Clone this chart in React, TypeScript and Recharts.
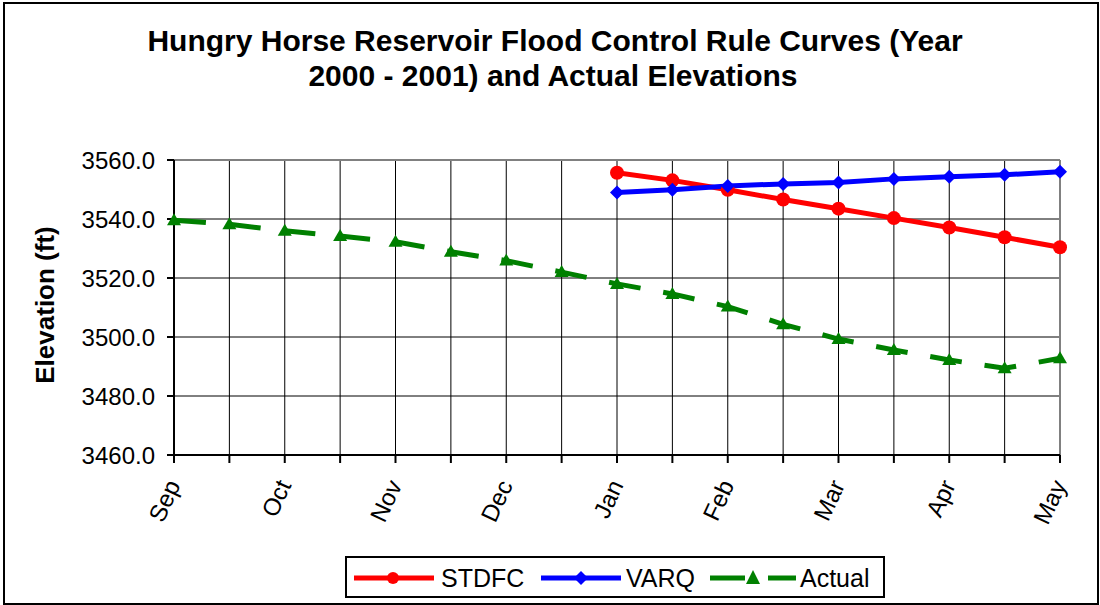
import React from 'react';
import { LineChart, Line, XAxis, YAxis, CartesianGrid, ReferenceLine } from 'recharts';

const categoryIndex = [0, 1, 2, 3, 4, 5, 6, 7, 8, 9, 10, 11, 12, 13, 14, 15, 16];
const tickLabels = ['Sep', '', 'Oct', '', 'Nov', '', 'Dec', '', 'Jan', '', 'Feb', '', 'Mar', '', 'Apr', '', 'May'];
const stdfc = [null, null, null, null, null, null, null, null, 3555.7, 3553.1, 3549.9, 3546.6, 3543.5, 3540.3, 3537.1, 3533.8, 3530.4];
const varq = [null, null, null, null, null, null, null, null, 3549.0, 3549.9, 3551.2, 3551.9, 3552.4, 3553.6, 3554.3, 3555.0, 3556.0];
const actual = [3539.6, 3538.2, 3536.0, 3534.2, 3532.3, 3528.9, 3525.9, 3522.0, 3518.0, 3514.6, 3510.3, 3504.3, 3499.3, 3495.6, 3492.2, 3489.4, 3492.8];
const yTicks = [3460, 3480, 3500, 3520, 3540, 3560];

const data = categoryIndex.map((i) => ({
  i,
  label: tickLabels[i],
  STDFC: stdfc[i],
  VARQ: varq[i],
  Actual: actual[i],
}));

const FONT = "Arial, 'Liberation Sans', sans-serif";

const XTick = (props: any) => {
  const { x, y, payload } = props;
  const label = tickLabels[payload.value];
  if (!label) return null;
  const ax = x + 7;
  const ay = y + 20;
  return (
    <text
      x={ax}
      y={ay}
      transform={`rotate(-65, ${ax}, ${ay})`}
      textAnchor="end"
      fontSize={24}
      fontFamily={FONT}
      fill="#000"
    >
      {label}
    </text>
  );
};

const Diamond = (props: any) => {
  const { cx, cy } = props;
  if (cx == null || cy == null || props.value == null) return null;
  const s = 7;
  return <path d={`M${cx},${cy - s}L${cx + s},${cy}L${cx},${cy + s}L${cx - s},${cy}Z`} fill="#0000FF" />;
};

const Triangle = (props: any) => {
  const { cx, cy } = props;
  if (cx == null || cy == null || props.value == null) return null;
  return <path d={`M${cx},${cy - 7}L${cx + 7},${cy + 5}L${cx - 7},${cy + 5}Z`} fill="#008000" />;
};

const LegendBox = () => (
  <svg width={542} height={44} style={{ display: 'block' }}>
    <rect x={1} y={1} width={538} height={40} fill="#fff" stroke="#000" strokeWidth={2} />
    <line x1={9} y1={22} x2={89} y2={22} stroke="#FF0000" strokeWidth={5} />
    <circle cx={48} cy={22} r={6} fill="#FF0000" />
    <text x={96} y={31} fontSize={25} fontFamily={FONT}>STDFC</text>
    <line x1={196} y1={22} x2={276} y2={22} stroke="#0000FF" strokeWidth={5} />
    <path d="M236,15L243,22L236,29L229,22Z" fill="#0000FF" />
    <text x={281} y={31} fontSize={25} fontFamily={FONT}>VARQ</text>
    <line x1={365} y1={22} x2={400} y2={22} stroke="#008000" strokeWidth={5} />
    <path d="M408,14L415,28L401,28Z" fill="#008000" />
    <line x1={423} y1={22} x2={451} y2={22} stroke="#008000" strokeWidth={5} />
    <text x={455} y={31} fontSize={25} fontFamily={FONT}>Actual</text>
  </svg>
);

export default function App() {
  return (
    <div style={{ position: 'absolute', left: 0, top: 0, width: 1100, height: 605, background: '#fff', fontFamily: FONT }}>
      <div style={{ position: 'absolute', left: 3, top: 2, width: 1092, height: 599, border: '2px solid #000', boxSizing: 'content-box' }} />
      <svg style={{ position: 'absolute', left: 0, top: 0 }} width={1100} height={110}>
        <text x={555} y={51} textAnchor="middle" fontSize={30} fontWeight="bold" fontFamily={FONT}>
          Hungry Horse Reservoir Flood Control Rule Curves (Year
        </text>
        <text x={553} y={86} textAnchor="middle" fontSize={30} fontWeight="bold" fontFamily={FONT}>
          2000 - 2001) and Actual Elevations
        </text>
      </svg>
      <svg style={{ position: 'absolute', left: 0, top: 0 }} width={100} height={605}>
        <text
          x={54}
          y={305}
          transform="rotate(-90, 54, 305)"
          textAnchor="middle"
          fontSize={26}
          fontWeight="bold"
          fontFamily={FONT}
        >
          Elevation (ft)
        </text>
      </svg>
      <div style={{ position: 'absolute', left: 0, top: 0 }}>
        <LineChart
          width={1100}
          height={605}
          data={data}
          margin={{ top: 160, right: 40, bottom: 50, left: 74 }}
        >
          <CartesianGrid stroke="#000" strokeWidth={1} />
          <XAxis
            dataKey="i"
            type="number"
            domain={[0, 16]}
            ticks={categoryIndex}
            interval={0}
            tick={<XTick />}
            tickSize={8}
            height={100}
            axisLine={{ stroke: '#000', strokeWidth: 2 }}
            tickLine={{ stroke: '#000', strokeWidth: 2 }}
          />
          <YAxis
            domain={[3460, 3560]}
            ticks={yTicks}
            interval={0}
            width={100}
            tickSize={7}
            tickMargin={12}
            tickFormatter={(v: number) => v.toFixed(1)}
            tick={{ fontSize: 24, fill: '#000', fontFamily: FONT }}
            axisLine={{ stroke: '#000', strokeWidth: 2 }}
            tickLine={{ stroke: '#000', strokeWidth: 2 }}
          />
          <ReferenceLine y={3560} stroke="#808080" strokeWidth={2} />
          <ReferenceLine x={16} stroke="#808080" strokeWidth={2} />
          <Line
            dataKey="Actual"
            stroke="#008000"
            strokeWidth={5}
            strokeDasharray="32 23"
            dot={<Triangle />}
            isAnimationActive={false}
          />
          <Line
            dataKey="STDFC"
            stroke="#FF0000"
            strokeWidth={5}
            dot={{ r: 7, fill: '#FF0000', stroke: 'none' }}
            isAnimationActive={false}
          />
          <Line
            dataKey="VARQ"
            stroke="#0000FF"
            strokeWidth={5}
            dot={<Diamond />}
            isAnimationActive={false}
          />
        </LineChart>
      </div>
      <div style={{ position: 'absolute', left: 345, top: 556 }}>
        <LegendBox />
      </div>
    </div>
  );
}
